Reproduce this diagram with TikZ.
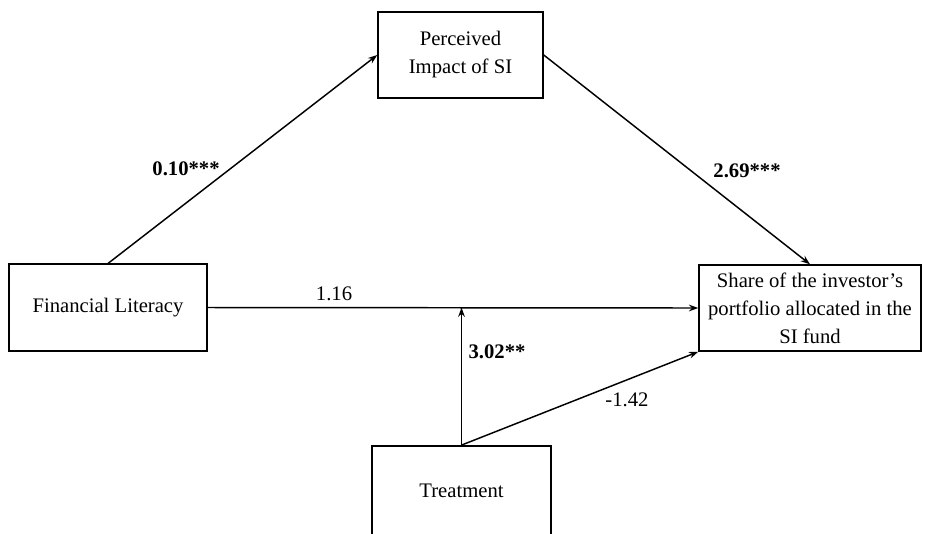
\documentclass[tikz,border=0pt]{standalone}
\usepackage{fontspec}
\setmainfont{Liberation Serif}
\usetikzlibrary{arrows.meta}

\tikzset{
    varbox/.style={draw, line width=1.1pt, align=center, inner sep=2pt,
        font=\fontsize{15.5}{21}\selectfont},
    path/.style={line width=1.1pt, -{Stealth[length=7pt,width=5pt]}},
    coef/.style={font=\fontsize{15.5}{21}\selectfont},
}

\begin{document}
\begin{tikzpicture}[x=0.75pt,y=-0.75pt]
    \useasboundingbox (0,0) rectangle (934,533);

    % Variables
    \node[varbox, minimum width=123.75pt, minimum height=64.5pt] (perc) at (460.5,55) {Perceived\\Impact of SI};
    \node[varbox, minimum width=148.5pt, minimum height=65pt] (finlit) at (108,307.5) {Financial Literacy};
    \node[varbox, minimum width=166.5pt, minimum height=64.5pt] (share) at (810,308) {Share of the investor's\\portfolio allocated in the\\SI fund};
    \node[varbox, minimum width=134pt, minimum height=67pt] (treat) at (461.5,490.5) {Treatment};

    % Paths
    \coordinate (mod) at (treat.north |- finlit.east);
    \draw[path] (finlit.north) -- (perc.west);
    \draw[path] (perc.east) -- (share.north);
    \draw[path] (finlit.east) -- (share.west);
    \draw[path] (treat.north) -- (mod);
    \draw[path] (treat.north) -- (share.south west);

    % Coefficients
    \node[coef] (cA) at (186,169) {\textbf{0.10***}};
    \node[coef] (cB) at (747,171) {\textbf{2.69***}};
    \node[coef] (cC) at (334,294) {1.16};
    \node[coef] (cD) at (497,352) {\textbf{3.02**}};
    \node[coef] (cE) at (627,400) {-1.42};
\end{tikzpicture}
\end{document}
